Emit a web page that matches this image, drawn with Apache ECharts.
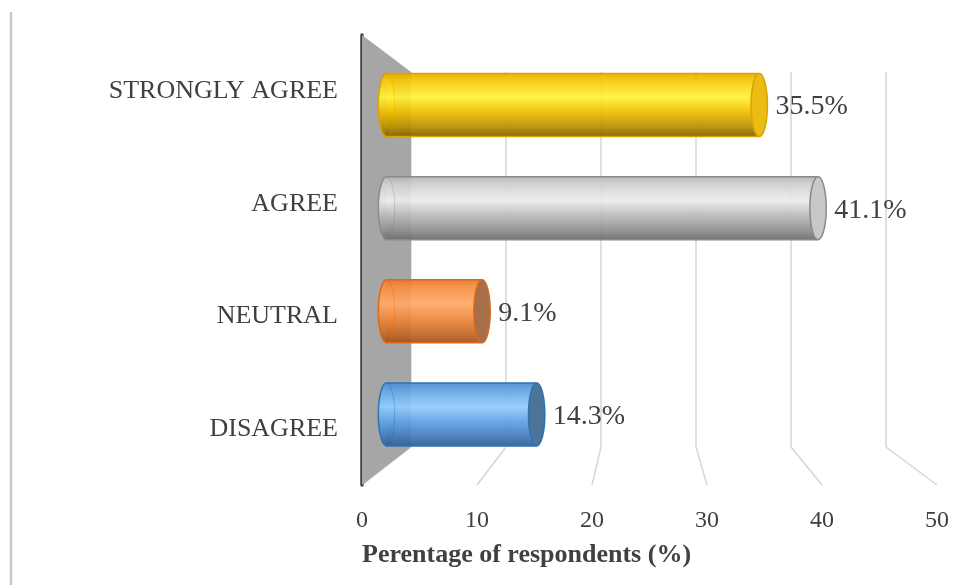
<!DOCTYPE html>
<html>
<head>
<meta charset="utf-8">
<title>Respondents</title>
<script src="https://cdn.jsdelivr.net/npm/echarts@6/dist/echarts.min.js"></script>
<style>
  html, body { margin: 0; padding: 0; background: #fff; }
  #main { width: 962px; height: 585px; }
</style>
</head>
<body>
<div id="main"></div>
<script>
    // data
    var categories = ["STRONGLY AGREE", "AGREE", "NEUTRAL", "DISAGREE"];
    var percents = [35.5, 41.1, 9.1, 14.3];
    var xTicks = [0, 10, 20, 30, 40, 50];
    var axisTitle = "Perentage of respondents (%)";

    var serif = "'Liberation Serif', 'Times New Roman', serif";
    var textColor = "#404040";

    // front plane, back wall, and the mid depth where the cylinders sit
    var front = { left: 362, top: 35, width: 575, height: 450 };
    var back = { left: 411, top: 72, width: 475, height: 375 };
    var mid = {
        left: (front.left + back.left) / 2,
        top: (front.top + back.top) / 2,
        width: (front.width + back.width) / 2,
        height: (front.height + back.height) / 2
    };

    // cylinder colours, one per category
    var palettes = [
        { stops: ["#e6ad00", "#f6c80c", "#fff23c", "#f0c000", "#b88e00", "#7d6000"], edge: "#d9a300", face: "#ebbd14" },
        { stops: ["#b4b4b4", "#cfcfcf", "#ececec", "#bdbdbd", "#8f8f8f", "#6c6c6c"], edge: "#8a8a8a", face: "#c8c8c8" },
        { stops: ["#e6782c", "#f58e44", "#ffa966", "#f08a40", "#c66a26", "#a0541a"], edge: "#d9691c", face: "#a56f4a" },
        { stops: ["#4d8ccc", "#64a4e4", "#92cdfb", "#62a4e6", "#4479b8", "#2f5f98"], edge: "#2e72b4", face: "#4c7398" }
    ];

    function cylinder(params, api) {
        var val = api.value(0);
        var cat = api.value(1);
        var s = api.coord([0, cat]);
        var e = api.coord([val, cat]);
        var h = api.size([0, 1])[1] * 0.61;
        var rx = h * 0.13;
        var y0 = s[1] - h / 2;
        var p = palettes[params.dataIndex];
        var grad = new echarts.graphic.LinearGradient(0, 0, 0, 1, [
            { offset: 0, color: p.stops[0] },
            { offset: 0.12, color: p.stops[1] },
            { offset: 0.38, color: p.stops[2] },
            { offset: 0.6, color: p.stops[3] },
            { offset: 0.85, color: p.stops[4] },
            { offset: 1, color: p.stops[5] }
        ]);
        return {
            type: "group",
            children: [
                {
                    type: "ellipse",
                    shape: { cx: s[0], cy: s[1], rx: rx, ry: h / 2 },
                    style: { fill: grad, stroke: p.edge, lineWidth: 1.5, opacity: 0.93 }
                },
                {
                    type: "rect",
                    shape: { x: s[0], y: y0, width: e[0] - s[0], height: h },
                    style: { fill: grad, opacity: 0.93 }
                },
                {
                    type: "line",
                    shape: { x1: s[0], y1: y0, x2: e[0], y2: y0 },
                    style: { stroke: p.edge, lineWidth: 1.5 }
                },
                {
                    type: "line",
                    shape: { x1: s[0], y1: y0 + h, x2: e[0], y2: y0 + h },
                    style: { stroke: p.edge, lineWidth: 1.5 }
                },
                {
                    type: "ellipse",
                    shape: { cx: s[0], cy: s[1], rx: rx, ry: h / 2 },
                    style: { fill: null, stroke: p.edge, lineWidth: 1, opacity: 0.3 }
                },
                {
                    type: "ellipse",
                    shape: { cx: e[0], cy: s[1], rx: rx, ry: h / 2 },
                    style: { fill: p.face, stroke: p.edge, lineWidth: 1.5 }
                },
                {
                    type: "text",
                    style: {
                        x: e[0] + rx + 8,
                        y: s[1] + 2,
                        text: val.toFixed(1) + "%",
                        fill: textColor,
                        font: "28px " + serif,
                        textVerticalAlign: "middle"
                    }
                }
            ]
        };
    }

    var chart = echarts.init(document.getElementById("main"));

    var option = {
        animation: false,
        backgroundColor: "#fff",
        title: {
            text: axisTitle,
            left: front.left,
            top: 542,
            padding: 0,
            textStyle: { fontFamily: serif, fontSize: 26, fontWeight: "bold", color: textColor }
        },
        grid: [
            front,
            back,
            mid
        ],
        xAxis: [
            {
                gridIndex: 0, type: "value", min: 0, max: 50, interval: 10,
                axisLine: { show: false }, axisTick: { show: false }, splitLine: { show: false },
                axisLabel: { fontFamily: serif, fontSize: 24, color: textColor, margin: 24 }
            },
            {
                gridIndex: 1, type: "value", min: 0, max: 50, interval: 10,
                axisLine: { show: false }, axisTick: { show: false }, axisLabel: { show: false },
                splitLine: { lineStyle: { color: "#d6d6d6", width: 1.5 } }
            },
            {
                gridIndex: 2, type: "value", min: 0, max: 50, show: false
            }
        ],
        yAxis: [
            {
                gridIndex: 0, type: "category", inverse: true, data: categories,
                axisTick: { show: false },
                axisLine: { lineStyle: { color: "#404040", width: 3.5 } },
                axisLabel: { fontFamily: serif, fontSize: 26, color: textColor, margin: 24 }
            },
            { gridIndex: 1, type: "category", inverse: true, data: categories, show: false },
            { gridIndex: 2, type: "category", inverse: true, data: categories, show: false }
        ],
        series: [
            {
                type: "custom",
                xAxisIndex: 2,
                yAxisIndex: 2,
                renderItem: cylinder,
                encode: { x: 0, y: 1 },
                data: percents.map(function (v, i) { return [v, i]; }),
                z: 5
            }
        ]
    };

    chart.setOption(option);

    // side wall and floor lines joining the back wall to the front axis
    var backBottom = back.top + back.height;
    var frontBottom = front.top + front.height;
    var decor = [];
    xTicks.forEach(function (t) {
        var bx = chart.convertToPixel({ xAxisIndex: 1 }, t);
        var fx = chart.convertToPixel({ xAxisIndex: 0 }, t);
        decor.push({
            type: "line", z: 0,
            shape: { x1: bx, y1: backBottom, x2: fx, y2: frontBottom },
            style: { stroke: "#d6d6d6", lineWidth: 1.5 }
        });
    });
    var bx0 = chart.convertToPixel({ xAxisIndex: 1 }, 0);
    var fx0 = chart.convertToPixel({ xAxisIndex: 0 }, 0);
    decor.push({
        type: "polygon", z: 1,
        shape: { points: [[fx0, front.top], [bx0, back.top], [bx0, backBottom], [fx0, frontBottom]] },
        style: { fill: "#a6a6a6" }
    });
    decor.push({
        type: "line", z: 1,
        shape: { x1: 11, y1: 12, x2: 11, y2: 585 },
        style: { stroke: "#c8c8c8", lineWidth: 2.5 }
    });

    chart.setOption({ graphic: decor });
</script>
</body>
</html>
